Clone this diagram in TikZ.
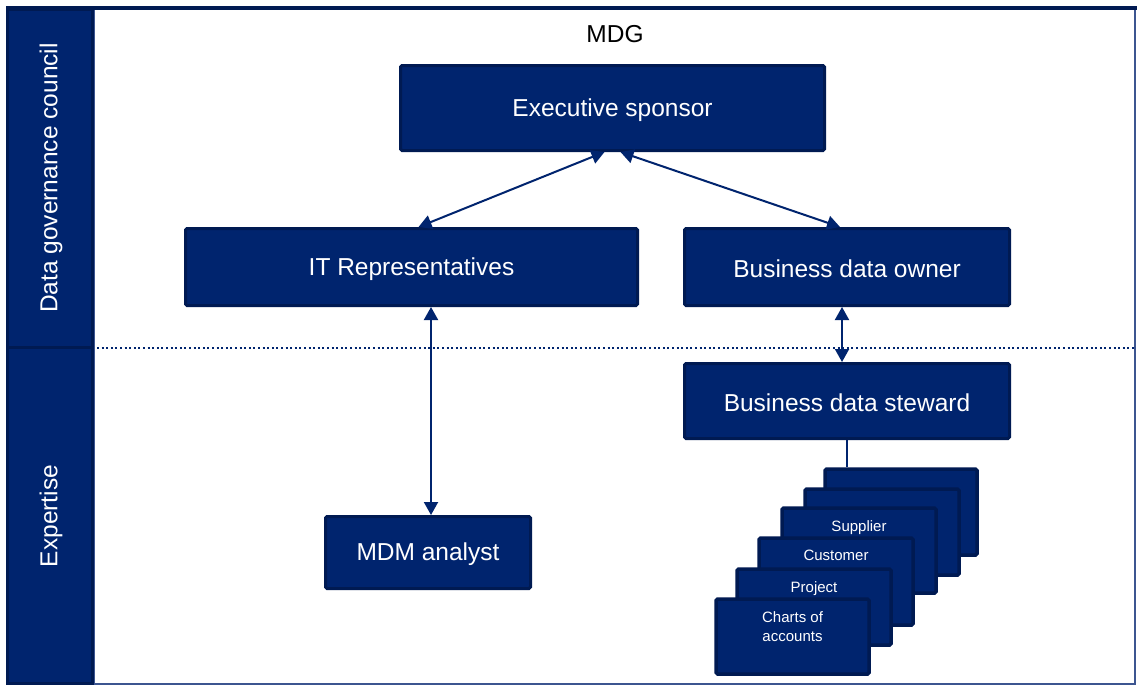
\documentclass[tikz,border=0pt]{standalone}
\usepackage{fontspec}
\setmainfont{Liberation Sans}
\usetikzlibrary{arrows.meta}
\definecolor{navy}{HTML}{00246E}
\definecolor{navyedge}{HTML}{001A52}
\definecolor{frameline}{HTML}{3C5590}
\tikzset{
  rolebox/.style={draw=navyedge, line width=3pt, fill=navy, rounded corners=1.5pt,
    text=white, inner sep=0pt, font=\fontsize{24.5}{28}\selectfont},
  rolelabel/.style={yshift=-2pt},
  card/.style={draw=navyedge, line width=3.5pt, fill=navy, rounded corners=1.5pt, inner sep=0pt},
  cardtext/.style={text=white, inner sep=0pt, anchor=north, yshift=-14pt, align=center,
    font=\fontsize{15}{19}\selectfont},
  link/.style={navy, line width=2pt,
    {Triangle[width=14pt,length=13pt]}-{Triangle[width=14pt,length=13pt]}},
  sidetext/.style={text=white, rotate=90, font=\fontsize{24.5}{28}\selectfont}
}
\begin{document}
\begin{tikzpicture}[x=1pt,y=-1pt]
\useasboundingbox (0,0) rectangle (1137,686);
\fill[white] (0,0) rectangle (1137,686);

% outer frame
\draw[frameline, line width=2pt] (1135,8) -- (1135,684) -- (6,684);
\draw[navyedge, line width=4pt] (6,8) -- (1137,8);

% side column with the two bands
\draw[navyedge, line width=3pt, fill=navy] (7.5,9.5) rectangle (92,347);
\draw[navyedge, line width=3pt, fill=navy] (7.5,347) rectangle (92,683);
\draw[frameline, line width=1pt] (94,10) -- (94,684);
\node[sidetext] (gov) at (51,178) {Data governance council};
\node[sidetext] (exp) at (51,516) {Expertise};

% boundary between council and expertise
\draw[navy, line width=2pt, dash pattern=on 2pt off 2.6pt] (97,348) -- (1135,348);

\node (mdg) at (615,34) {\fontsize{24.5}{28}\selectfont MDG};

% roles
\node[rolebox, minimum width=424, minimum height=85] (exec) at (612.5,108) {};
\node[rolebox, minimum width=452, minimum height=77] (itrep) at (411.5,267) {};
\node[rolebox, minimum width=325, minimum height=77] (owner) at (847,267) {};
\node[rolebox, minimum width=325, minimum height=75] (steward) at (847,401) {};
\node[rolebox, minimum width=205, minimum height=72] (mdm) at (428,552.5) {};
\foreach \n/\t in {exec/Executive sponsor, itrep/IT Representatives, owner/Business data owner,
                   steward/Business data steward, mdm/MDM analyst}
  \node[text=white, font=\fontsize{24.5}{28}\selectfont, rolelabel] at (\n.center) {\t};

% data domains, back to front
\node[card, minimum width=152, minimum height=86] (c1) at (901,512) {};
\node[card, minimum width=154, minimum height=86] (c2) at (882,532) {};
\node[card, minimum width=154, minimum height=85, label={[cardtext]north:Supplier}] (c3) at (859,550.5) {};
\node[card, minimum width=154, minimum height=87, label={[cardtext]north:Customer}] (c4) at (836,581.5) {};
\node[card, minimum width=154, minimum height=76, label={[cardtext]north:Project}] (c5) at (814,607) {};
\node[card, minimum width=153, minimum height=75, label={[cardtext]north:Charts of\\accounts}] (c6) at (792.5,636.5) {};

% connectors
\draw[link] ([xshift=-8pt]exec.south) -- ([xshift=7pt]itrep.north);
\draw[link] ([xshift=8pt]exec.south) -- ([xshift=-7pt]owner.north);
\draw[link] ([xshift=19.5pt]itrep.south) -- ([xshift=19.5pt]itrep.south |- mdm.north);
\draw[link] ([xshift=-5pt]owner.south) -- ([xshift=-5pt]owner.south |- steward.north);
\draw[navy, line width=2pt] (steward.south) -- (steward.south |- c1.north);
\end{tikzpicture}
\end{document}
